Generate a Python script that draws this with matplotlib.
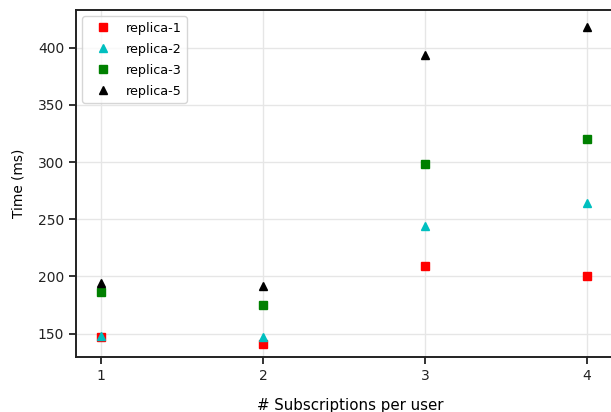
import matplotlib
matplotlib.use("Agg")
import matplotlib.pyplot as plt

subs = [1, 2, 3, 4]
replica_1 = [147, 141, 209, 200]
replica_2 = [148, 147, 244, 264]
replica_3 = [186, 175, 298, 320]
replica_5 = [194, 192, 394, 418]

series = [
    ("replica-1", replica_1, "s", "red"),
    ("replica-2", replica_2, "^", "c"),
    ("replica-3", replica_3, "s", "green"),
    ("replica-5", replica_5, "^", "black"),
]

fig = plt.figure(figsize=(6.11, 4.12), dpi=100)
ax = fig.add_axes([76/611, 55/412, 536/611, 347/412])
for label, vals, m, c in series:
    ax.plot(subs, vals, linestyle="none", marker=m, color=c, markersize=6, label=label)

ax.set_xlim(0.846, 4.154)
ax.set_ylim(129.5, 433)
ax.set_xticks(subs)
ax.set_yticks([150, 200, 250, 300, 350, 400])
ax.grid(True, color="#e6e6e6", linewidth=1)
ax.set_axisbelow(True)
for s in ax.spines.values():
    s.set_linewidth(1.4)
    s.set_color("#222222")
ax.tick_params(direction="out", length=5, width=1.3, labelsize=10, colors="#222222")
ax.set_xlabel("# Subscriptions per user", fontsize=10.8, labelpad=11)
ax.xaxis.label.set_x(0.512)
ax.set_ylabel("Time (ms)", fontsize=9.8, labelpad=9)
ax.legend(loc="upper left", fontsize=9.2, frameon=True, labelspacing=0.63,
          handlelength=2.4, handletextpad=0.6)
fig.savefig("out.png", dpi=100)
